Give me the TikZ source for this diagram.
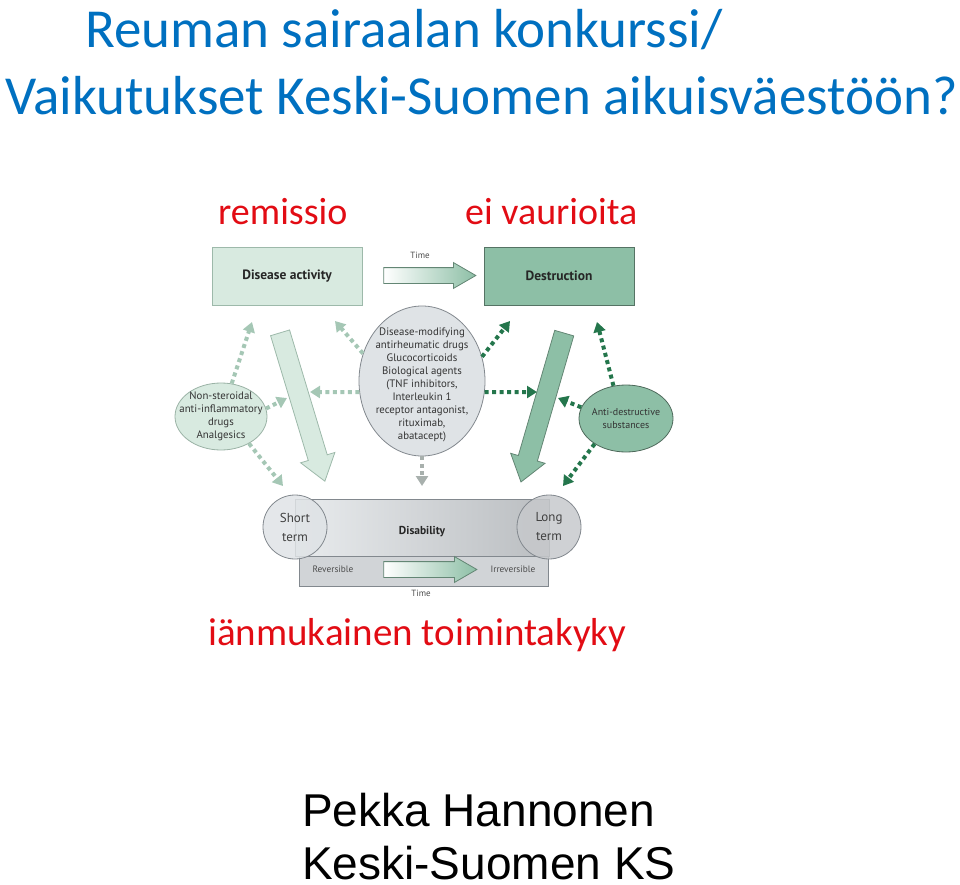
\documentclass[tikz,border=0pt]{standalone}
\usepackage{fontspec}
\setmainfont{Carlito}
\newfontfamily\diagfont{PT Sans}
\newfontfamily\authorfont{Liberation Sans}
\usetikzlibrary{arrows.meta, positioning, shapes.geometric, shapes.arrows}
\definecolor{titleblue}{RGB}{0,112,192}
\definecolor{remred}{RGB}{226,12,20}
\definecolor{palegreen}{RGB}{216,234,224}
\definecolor{midgreen}{RGB}{141,191,166}
\definecolor{darkgreen}{RGB}{36,118,76}
\definecolor{dotlight}{RGB}{165,199,181}
\definecolor{dotgray}{RGB}{168,176,173}
\definecolor{boxgray}{RGB}{223,227,230}
\definecolor{edgegray}{RGB}{130,136,142}

\begin{document}
\begin{tikzpicture}[x=1pt, y=-1pt,
  every node/.style={inner sep=0pt},
  stagebox/.style={draw, line width=0.8pt, minimum width=150pt, minimum height=58pt,
    font=\diagfont\bfseries\fontsize{13.5}{15}\selectfont, text=black!85},
  drug/.style={draw, ellipse, line width=0.8pt},
  drugtext/.style={align=center, font=\diagfont\fontsize{10.8}{13}\selectfont, text=black!80},
  timearrow/.style={single arrow, draw=midgreen!70!black, line width=0.8pt, left color=white,
    right color=midgreen, minimum height=92pt, inner ysep=7.5pt, inner xsep=0pt,
    single arrow head extend=5pt, single arrow tip angle=60},
  fatarrow/.style={single arrow, line width=0.8pt, minimum height=155pt, inner ysep=9.5pt,
    inner xsep=0pt, single arrow head extend=8pt, single arrow tip angle=72},
  dots/.style={line width=4pt, dash pattern=on 4pt off 3.5pt, -{Triangle[length=10pt, width=12pt]}},
  small/.style={font=\diagfont\fontsize{9}{10}\selectfont, text=black!70},
  term/.style={draw=edgegray, circle, line width=0.8pt, minimum size=64pt, fill opacity=0.85,
    text opacity=1, align=center, font=\diagfont\fontsize{13}{19}\selectfont, text=black!75}
]
  \useasboundingbox (0,0) rectangle (960,885);

  % Title
  \node[anchor=base west, font=\fontsize{55}{60}\selectfont, text=titleblue] (title1) at (85,48) {Reuman sairaalan konkurssi/};
  \node[anchor=base west, font=\fontsize{55}{60}\selectfont, text=titleblue] (title2) at (5,115) {Vaikutukset Keski-Suomen aikuisväestöön?};

  % Red remarks
  \node[anchor=base west, font=\fontsize{38}{42}\selectfont, text=remred] (remissio) at (218,225) {remissio};
  \node[anchor=base west, font=\fontsize{38}{42}\selectfont, text=remred] (novaurio) at (465,225) {ei vaurioita};
  \node[anchor=base west, font=\fontsize{39}{42}\selectfont, text=remred] (toimkyky) at (208,645) {iänmukainen toimintakyky};

  % Top row
  \node[stagebox, fill=palegreen, draw=dotlight!80!gray] (activity) at (287,276) {Disease activity};
  \node[stagebox, fill=midgreen, draw=midgreen!60!black] (destruction) at (559,276) {Destruction};
  \node[timearrow] (timetop) at (423,275.5) {};
  \node[small] (timetoplabel) at (420,255) {Time};

  % Drug ellipses
  \node[drug, fill=palegreen, draw=dotlight!70!gray, minimum width=92pt, minimum height=67pt] (nsaid) at (221,416.5) {};
  \node[drugtext] (nsaidtext) at (nsaid.center) {Non-steroidal\\anti-inflammatory\\drugs\\Analgesics};
  \node[drug, fill=boxgray, draw=edgegray, minimum width=126pt, minimum height=150pt] (drugs) at (422,381) {};
  \node[drugtext] (drugstext) at (422,385) {Disease-modifying\\antirheumatic drugs\\Glucocorticoids\\Biological agents\\(TNF inhibitors,\\Interleukin 1\\receptor antagonist,\\rituximab,\\abatacept)};
  \node[drug, fill=midgreen, draw=midgreen!55!black, minimum width=94pt, minimum height=67pt] (antidest) at (626,418.5) {};
  \node[drugtext, font=\diagfont\fontsize{10}{13}\selectfont] (antidesttext) at (antidest.center) {Anti-destructive\\substances};

  % Fat arrows
  \node[fatarrow, fill=palegreen, draw=dotlight!80!gray, rotate=-73.2] (fatleft) at (300.5,400.5) {};
  \node[fatarrow, fill=midgreen, draw=midgreen!70!black, rotate=-106.2] (fatright) at (544.5,401) {};

  % Arrow tips
  \coordinate (nsaidup) at (252,322);
  \coordinate (nsaidright) at (287,398);
  \coordinate (nsaiddown) at (283,486);
  \coordinate (drugsupleft) at (335,321);
  \coordinate (drugsleft) at (310,392);
  \coordinate (drugsdown) at (422,486);
  \coordinate (drugsright) at (537,392);
  \coordinate (drugsupright) at (510,321);
  \coordinate (antiup) at (597,322);
  \coordinate (antileft) at (558,398);
  \coordinate (antidown) at (563,486);

  \draw[dots, dotlight] (nsaid.72) -- (nsaidup);
  \draw[dots, dotlight] (nsaid.10) -- (nsaidright);
  \draw[dots, dotlight] (nsaid.-44) -- (nsaiddown);
  \draw[dots, dotlight] (drugs.155) -- (drugsupleft);
  \draw[dots, dotlight] (drugs.190) -- (drugsleft);
  \draw[dots, dotgray] (drugs.south) -- (drugsdown);
  \draw[dots, darkgreen] (drugs.-10) -- (drugsright);
  \draw[dots, darkgreen] (drugs.22) -- (drugsupright);
  \draw[dots, darkgreen] (antidest.111) -- (antiup);
  \draw[dots, darkgreen] (antidest.166) -- (antileft);
  \draw[dots, darkgreen] (antidest.219) -- (antidown);

  % Disability bar
  \node[draw=edgegray, line width=0.8pt, fill=boxgray!85!gray, minimum width=249pt, minimum height=30pt] (lowerbar) at (423.5,571) {};
  \node[draw=edgegray, line width=0.8pt, left color=boxgray!70!white, right color=edgegray!55, minimum width=254pt, minimum height=57pt] (bar) at (422,527.5) {};
  \node[term, fill=boxgray] (shortterm) at (295,527) {Short\\term};
  \node[term, fill=edgegray!45] (longterm) at (549,527) {Long\\term};
  \node[font=\diagfont\bfseries\fontsize{11.5}{13}\selectfont, text=black!85] (disability) at (422,532) {Disability};
  \node[small, font=\diagfont\fontsize{9.3}{10}\selectfont] (reversible) at (333,569) {Reversible};
  \node[small, font=\diagfont\fontsize{9.3}{10}\selectfont] (irreversible) at (513,569) {Irreversible};
  \node[timearrow, minimum height=93pt] (timebottom) at (423.5,569.5) {};
  \node[small] (timebottomlabel) at (421,593) {Time};

  % Author
  \node[anchor=base west, font=\authorfont\fontsize{46}{50}\selectfont] (author) at (302,826) {Pekka Hannonen};
  \node[anchor=base west, font=\authorfont\fontsize{46}{50}\selectfont] (place) at (302,879) {Keski-Suomen KS};
\end{tikzpicture}
\end{document}
